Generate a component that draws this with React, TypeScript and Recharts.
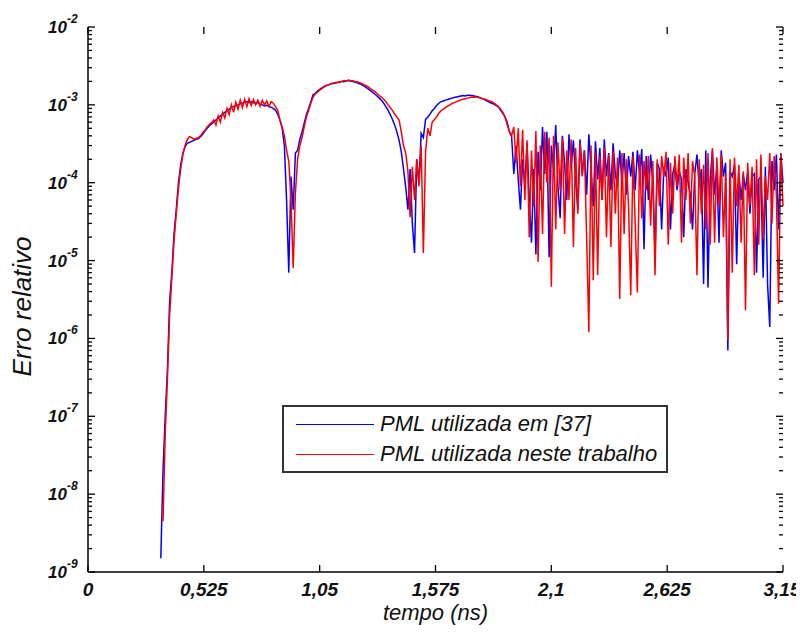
import React from 'react'
import { LineChart, Line, XAxis, YAxis, Legend, Label } from 'recharts'

// tempo (ns), one sample every 0.01 ns
const time = [
   0.33, 0.34, 0.35, 0.36, 0.37, 0.38, 0.39,
   0.4, 0.41, 0.42, 0.43, 0.44, 0.45, 0.46, 0.47, 0.48, 0.49,
   0.5, 0.51, 0.52, 0.53, 0.54, 0.55, 0.56, 0.57, 0.58, 0.59,
   0.6, 0.61, 0.62, 0.63, 0.64, 0.65, 0.66, 0.67, 0.68, 0.69,
   0.7, 0.71, 0.72, 0.73, 0.74, 0.75, 0.76, 0.77, 0.78, 0.79,
   0.8, 0.81, 0.82, 0.83, 0.84, 0.85, 0.86, 0.87, 0.88, 0.89,
   0.9, 0.91, 0.92, 0.93, 0.94, 0.95, 0.96, 0.97, 0.98, 0.99,
   1.0, 1.01, 1.02, 1.03, 1.04, 1.05, 1.06, 1.07, 1.08, 1.09,
   1.1, 1.11, 1.12, 1.13, 1.14, 1.15, 1.16, 1.17, 1.18, 1.19,
   1.2, 1.21, 1.22, 1.23, 1.24, 1.25, 1.26, 1.27, 1.28, 1.29,
   1.3, 1.31, 1.32, 1.33, 1.34, 1.35, 1.36, 1.37, 1.38, 1.39,
   1.4, 1.41, 1.42, 1.43, 1.44, 1.45, 1.46, 1.47, 1.48, 1.49,
   1.5, 1.51, 1.52, 1.53, 1.54, 1.55, 1.56, 1.57, 1.58, 1.59,
   1.6, 1.61, 1.62, 1.63, 1.64, 1.65, 1.66, 1.67, 1.68, 1.69,
   1.7, 1.71, 1.72, 1.73, 1.74, 1.75, 1.76, 1.77, 1.78, 1.79,
   1.8, 1.81, 1.82, 1.83, 1.84, 1.85, 1.86, 1.87, 1.88, 1.89,
   1.9, 1.91, 1.92, 1.93, 1.94, 1.95, 1.96, 1.97, 1.98, 1.99,
   2.0, 2.01, 2.02, 2.03, 2.04, 2.05, 2.06, 2.07, 2.08, 2.09,
   2.1, 2.11, 2.12, 2.13, 2.14, 2.15, 2.16, 2.17, 2.18, 2.19,
   2.2, 2.21, 2.22, 2.23, 2.24, 2.25, 2.26, 2.27, 2.28, 2.29,
   2.3, 2.31, 2.32, 2.33, 2.34, 2.35, 2.36, 2.37, 2.38, 2.39,
   2.4, 2.41, 2.42, 2.43, 2.44, 2.45, 2.46, 2.47, 2.48, 2.49,
   2.5, 2.51, 2.52, 2.53, 2.54, 2.55, 2.56, 2.57, 2.58, 2.59,
   2.6, 2.61, 2.62, 2.63, 2.64, 2.65, 2.66, 2.67, 2.68, 2.69,
   2.7, 2.71, 2.72, 2.73, 2.74, 2.75, 2.76, 2.77, 2.78, 2.79,
   2.8, 2.81, 2.82, 2.83, 2.84, 2.85, 2.86, 2.87, 2.88, 2.89,
   2.9, 2.91, 2.92, 2.93, 2.94, 2.95, 2.96, 2.97, 2.98, 2.99,
   3.0, 3.01, 3.02, 3.03, 3.04, 3.05, 3.06, 3.07, 3.08, 3.09,
   3.1, 3.11, 3.12, 3.13, 3.14, 3.15,
]

// erro relativo - PML utilizada em [37] (azul)
const pmlRef = [
   1.5e-9, 2e-8, 1e-7, 4e-7, 3e-6, 7e-6, 2.2e-5,
   4.5e-5, 1e-4, 1.7e-4, 2.4e-4, 2.9e-4, 3.2e-4, 3.3e-4, 3.4e-4, 3.5e-4, 3.6e-4,
   3.7e-4, 3.9e-4, 4.2e-4, 4.6e-4, 5e-4, 5.4e-4, 5.7e-4, 6e-4, 6.4e-4, 6.8e-4,
   7.2e-4, 7.6e-4, 8e-4, 8.4e-4, 8.8e-4, 9.2e-4, 9.5e-4, 9.8e-4, 1e-3, 1.03e-3,
   1.05e-3, 1.08e-3, 1.1e-3, 1.07e-3, 1.1e-3, 1.06e-3, 1.05e-3, 1.07e-3, 1.02e-3, 1e-3,
   9.7e-4, 9.9e-4, 9.6e-4, 9.3e-4, 9e-4, 8.5e-4, 7.6e-4, 6.4e-4, 5e-4, 3e-4,
   6e-5, 7e-6, 1.2e-4, 4.5e-5, 2.4e-4, 2.6e-4, 3.6e-4, 4.5e-4, 5.8e-4, 7.5e-4,
   9e-4, 1.1e-3, 1.35e-3, 1.4e-3, 1.5e-3, 1.58e-3, 1.65e-3, 1.72e-3, 1.78e-3, 1.8e-3,
   1.86e-3, 1.88e-3, 1.9e-3, 1.93e-3, 1.95e-3, 2e-3, 1.98e-3, 2.02e-3, 2.05e-3, 2.03e-3,
   2e-3, 1.97e-3, 1.92e-3, 1.87e-3, 1.82e-3, 1.75e-3, 1.68e-3, 1.6e-3, 1.52e-3, 1.45e-3,
   1.38e-3, 1.3e-3, 1.22e-3, 1.15e-3, 1.05e-3, 9.5e-4, 8.5e-4, 7.5e-4, 6.5e-4, 5.5e-4,
   4.5e-4, 3.5e-4, 2.5e-4, 1.5e-4, 8.8e-5, 4.5e-5, 1.5e-4, 3e-5, 1.25e-5, 2e-4,
   1e-4, 4.3e-4, 3.8e-4, 6.5e-4, 7e-4, 7.6e-4, 8.4e-4, 9e-4, 9.8e-4, 1.05e-3,
   1.1e-3, 1.12e-3, 1.15e-3, 1.17e-3, 1.2e-3, 1.22e-3, 1.24e-3, 1.26e-3, 1.28e-3, 1.3e-3,
   1.32e-3, 1.3e-3, 1.33e-3, 1.33e-3, 1.32e-3, 1.3e-3, 1.28e-3, 1.26e-3, 1.22e-3, 1.2e-3,
   1.15e-3, 1.12e-3, 1.08e-3, 1.05e-3, 1.02e-3, 9.8e-4, 9.4e-4, 8.5e-4, 7.8e-4, 7e-4,
   6e-4, 4.5e-4, 3.9e-4, 1.3e-4, 3e-4, 1.1e-4, 4.5e-5, 2e-4, 9e-5, 3.2e-4,
   6e-5, 1.7e-5, 1.5e-4, 1.2e-5, 2.5e-4, 8e-5, 5.2e-4, 1.3e-4, 4.5e-4, 1.1e-5,
   3e-4, 1.5e-4, 5.5e-4, 9e-5, 3.5e-5, 4e-4, 1.8e-4, 6e-5, 4.2e-4, 1.6e-4,
   3.5e-4, 1.1e-4, 4.5e-5, 3.6e-4, 1.3e-4, 2.6e-4, 7e-5, 4.2e-4, 1.5e-4, 5e-5,
   3.4e-4, 1.1e-4, 2.8e-4, 6e-5, 3.6e-4, 1.2e-4, 2.4e-4, 8e-5, 3.2e-4, 1.3e-4,
   9e-5, 2.6e-4, 1e-4, 2.4e-4, 7e-5, 2.2e-4, 1.2e-4, 2.5e-4, 8e-5, 2.6e-4,
   1.3e-4, 2.7e-4, 1.4e-5, 2.2e-4, 6e-5, 2.3e-4, 1e-4, 1.2e-5, 1.8e-4, 1.5e-4,
   2.5e-5, 1.6e-4, 1.2e-4, 2.1e-4, 2.5e-5, 1.3e-4, 1.7e-4, 8e-5, 1.4e-4, 1.1e-4,
   2e-5, 1.5e-4, 1e-4, 7e-5, 2.5e-5, 1.3e-4, 2.3e-4, 9e-5, 1.5e-4, 5e-6,
   2.6e-4, 4.5e-6, 1.1e-4, 2.6e-4, 7e-5, 1.6e-4, 1.7e-5, 2.6e-4, 1.2e-4, 1.8e-4,
   7e-7, 1.4e-4, 1.2e-4, 1.7e-4, 9e-6, 1.3e-4, 6e-5, 1.3e-4, 8e-5, 1.4e-4,
   4e-5, 1.2e-4, 1.3e-4, 7e-6, 1.1e-4, 1.2e-4, 6e-6, 1.6e-4, 5e-6, 1.4e-6,
   1.9e-4, 8e-5, 2.3e-4, 2.5e-5, 2.4e-4, 1e-4,
]

// erro relativo - PML utilizada neste trabalho (vermelho)
const pmlNew = [
   null, 4.5e-9, 6e-8, 3e-7, 2e-6, 6e-6, 1.8e-5,
   4e-5, 8.5e-5, 1.5e-4, 2.3e-4, 3e-4, 3.6e-4, 3.9e-4, 3.8e-4, 3.6e-4, 3.7e-4,
   3.8e-4, 4e-4, 4.4e-4, 4.7e-4, 5.2e-4, 5.6e-4, 5.9e-4, 6.4e-4, 5.5e-4, 7.2e-4,
   6e-4, 8e-4, 6.8e-4, 9e-4, 7.5e-4, 1e-3, 8e-4, 1.08e-3, 8.8e-4, 1.15e-3,
   9.2e-4, 1.18e-3, 9.5e-4, 1.2e-3, 9.8e-4, 1.17e-3, 1e-3, 1.15e-3, 9.6e-4, 1.14e-3,
   1e-3, 1.12e-3, 9.5e-4, 1.1e-3, 1.05e-3, 9.5e-4, 8.5e-4, 6.4e-4, 5.2e-4, 4e-4,
   2.6e-4, 1.9e-4, 6e-5, 8e-6, 7.4e-5, 2e-4, 3e-4, 3.8e-4, 5.2e-4, 7e-4,
   8.5e-4, 1.05e-3, 1.25e-3, 1.38e-3, 1.45e-3, 1.55e-3, 1.62e-3, 1.7e-3, 1.76e-3, 1.82e-3,
   1.85e-3, 1.9e-3, 1.92e-3, 1.95e-3, 1.98e-3, 2e-3, 2.05e-3, 2.02e-3, 2.08e-3, 2.05e-3,
   2.04e-3, 2e-3, 1.98e-3, 1.93e-3, 1.88e-3, 1.82e-3, 1.76e-3, 1.7e-3, 1.62e-3, 1.55e-3,
   1.48e-3, 1.4e-3, 1.32e-3, 1.25e-3, 1.18e-3, 1.1e-3, 1e-3, 9.2e-4, 8.5e-4, 7.6e-4,
   7e-4, 6.4e-4, 4.5e-4, 3e-4, 2.4e-4, 1.4e-4, 3.6e-5, 1.6e-4, 6e-5, 2e-4,
   9e-5, 3e-4, 1.25e-5, 2.5e-4, 5e-4, 4e-4, 6e-4, 6.5e-4, 7e-4, 7.8e-4,
   8.4e-4, 8.8e-4, 9.2e-4, 9.6e-4, 1e-3, 1.04e-3, 1.07e-3, 1.1e-3, 1.13e-3, 1.16e-3,
   1.18e-3, 1.2e-3, 1.22e-3, 1.24e-3, 1.26e-3, 1.25e-3, 1.27e-3, 1.24e-3, 1.22e-3, 1.2e-3,
   1.18e-3, 1.15e-3, 1.12e-3, 1.1e-3, 1.05e-3, 1e-3, 9.5e-4, 8.8e-4, 8e-4, 7e-4,
   5.5e-4, 4.6e-4, 4e-4, 5.2e-4, 1.8e-4, 5e-4, 9e-5, 4.8e-4, 6e-5, 3.5e-4,
   2e-5, 2.6e-4, 5e-5, 4.6e-4, 9.6e-6, 3e-4, 2.2e-5, 4.5e-4, 1e-4, 3.8e-4,
   4.6e-6, 4e-4, 2.5e-5, 3.3e-4, 8e-5, 3.8e-4, 2.2e-5, 2.6e-4, 6e-5, 3.6e-4,
   1.5e-5, 2.8e-4, 4e-5, 3.2e-4, 1.2e-4, 2.6e-4, 2e-5, 1.2e-6, 3e-4, 5.6e-6,
   2.5e-4, 6.5e-6, 2.2e-4, 6e-5, 2.9e-4, 2e-5, 2.3e-4, 1.5e-5, 2.6e-4, 4e-5,
   2.1e-4, 3.2e-6, 2.4e-4, 2.2e-5, 2e-4, 5e-5, 3.6e-6, 2.2e-4, 3e-5, 3.9e-6,
   2.3e-4, 3.5e-5, 1.9e-4, 8e-5, 2.2e-4, 2.8e-5, 1.9e-4, 6.5e-6, 2e-4, 5e-5,
   2.2e-4, 1.2e-4, 2.5e-4, 1.6e-5, 1.8e-4, 4e-5, 2.2e-4, 9e-5, 2.3e-4, 1.7e-5,
   2.1e-4, 6e-5, 2.4e-4, 3e-5, 1.9e-4, 1.2e-4, 6.5e-6, 2e-4, 4e-5, 1.7e-4,
   2.5e-5, 2.4e-4, 1.6e-5, 2.8e-4, 1.7e-5, 2.1e-4, 5e-5, 2.3e-4, 2e-5, 1.3e-4,
   9.7e-7, 2e-4, 7e-6, 2.1e-4, 5e-5, 1.7e-4, 1.7e-5, 1.4e-4, 2.3e-6, 1.8e-4,
   5e-5, 1.6e-4, 6.5e-6, 2e-4, 1.6e-5, 2.3e-4, 1.9e-5, 1.2e-4, 6e-5, 2.4e-4,
   3e-5, 2.2e-4, 7e-5, 2.8e-6, 2.3e-4, 5e-5,
]

const seriesNames = ['PML utilizada em [37]', 'PML utilizada neste trabalho']
const xTicks = [0, 0.525, 1.05, 1.575, 2.1, 2.625, 3.15]
const decades = [1e-9, 1e-8, 1e-7, 1e-6, 1e-5, 1e-4, 1e-3, 1e-2]

// minor ticks 2..9 x 10^n between the decades
const yTicks: number[] = []
decades.forEach((d, i) => {
   if (i === decades.length - 1) {
      yTicks.push(d)
      return
   }
   for (let k = 1; k <= 9; k++) yTicks.push(+(d * k).toPrecision(3))
})

const data = time.map((t, i) => ({ t, ref: pmlRef[i], novo: pmlNew[i] }))

const W = 796
const H = 620
const MARGIN = { top: 19, right: 21, bottom: 0, left: 0 }
const Y_AXIS_W = 80
const X_AXIS_H = 56
const LEFT = MARGIN.left + Y_AXIS_W
const RIGHT = W - MARGIN.right
const TOP = MARGIN.top
const BOTTOM = H - MARGIN.bottom - X_AXIS_H

const FONT = '"Liberation Sans", Arial, Helvetica, sans-serif'
const FRAME = { stroke: '#000', strokeWidth: 1.5 }

const isDecade = (v: number) => Math.abs(Math.log10(v) - Math.round(Math.log10(v))) < 1e-6

const YTick = ({ y, payload }: any) => {
   const v = payload.value
   const major = isDecade(v)
   const len = major ? 7 : 4
   return (
      <g>
         <line x1={LEFT} x2={LEFT + len} y1={y} y2={y} stroke="#000" strokeWidth={1.3} />
         <line x1={RIGHT - len} x2={RIGHT} y1={y} y2={y} stroke="#000" strokeWidth={1.3} />
         {major && (
            <g fontFamily={FONT} fontStyle="italic" fontWeight="bold" fill="#111">
               <text x={LEFT - 21} y={y + 6} textAnchor="end" fontSize={17}>
                  10
               </text>
               <text x={LEFT - 21} y={y - 4} textAnchor="start" fontSize={12}>
                  {Math.round(Math.log10(v))}
               </text>
            </g>
         )}
      </g>
   )
}

const XTick = ({ x, payload }: any) => {
   const label = String(payload.value).replace('.', ',')
   // keep the last label inside the page
   const tx = Math.min(x, W - 22)
   return (
      <g>
         <line x1={x} x2={x} y1={BOTTOM} y2={BOTTOM - 7} stroke="#000" strokeWidth={1.3} />
         <line x1={x} x2={x} y1={TOP} y2={TOP + 7} stroke="#000" strokeWidth={1.3} />
         <text
            x={tx}
            y={BOTTOM + 24}
            textAnchor="middle"
            fontFamily={FONT}
            fontStyle="italic"
            fontWeight="bold"
            fontSize={19}
            fill="#111"
         >
            {label}
         </text>
      </g>
   )
}

const LegendBox = ({ payload }: any) => (
   <div
      style={{
         width: 386,
         height: 68,
         boxSizing: 'border-box',
         border: '2px solid #333',
         background: '#fff',
         padding: '2px 0 0 12px',
         fontFamily: FONT,
         fontStyle: 'italic',
         fontSize: 22,
         color: '#111',
      }}
   >
      {(payload || []).map((entry: any) => (
         <div key={entry.value} style={{ display: 'flex', alignItems: 'center', height: 30 }}>
            <span
               style={{
                  display: 'inline-block',
                  width: 78,
                  borderTop: `1.5px solid ${entry.color}`,
                  marginRight: 6,
               }}
            />
            <span>{entry.value}</span>
         </div>
      ))}
   </div>
)

const Y_LABEL_X = 23
const Y_LABEL_Y = (TOP + BOTTOM) / 2 + 7

export default function App() {
   return (
      <div style={{ width: W, height: H, position: 'relative', background: '#fff' }}>
         <LineChart width={W} height={H} data={data} margin={MARGIN}>
            <XAxis
               dataKey="t"
               type="number"
               domain={[0, 3.15]}
               ticks={xTicks}
               interval={0}
               tick={XTick}
               tickLine={false}
               axisLine={FRAME}
               height={X_AXIS_H}
            >
               <Label
                  content={() => (
                     <text
                        x={(LEFT + RIGHT) / 2}
                        y={H - 8}
                        textAnchor="middle"
                        fontFamily={FONT}
                        fontStyle="italic"
                        fontSize={22}
                        fill="#111"
                     >
                        tempo (ns)
                     </text>
                  )}
               />
            </XAxis>
            <XAxis
               xAxisId="top"
               orientation="top"
               dataKey="t"
               type="number"
               domain={[0, 3.15]}
               height={0}
               tick={false}
               tickLine={false}
               axisLine={FRAME}
            />
            <YAxis
               type="number"
               scale="log"
               domain={[1e-9, 1e-2]}
               allowDataOverflow
               ticks={yTicks}
               interval={0}
               tick={YTick}
               tickLine={false}
               axisLine={FRAME}
               width={Y_AXIS_W}
            >
               <Label
                  content={() => (
                     <text
                        x={Y_LABEL_X}
                        y={Y_LABEL_Y}
                        transform={`rotate(-90 ${Y_LABEL_X} ${Y_LABEL_Y})`}
                        textAnchor="middle"
                        fontFamily={FONT}
                        fontStyle="italic"
                        fontSize={26}
                        fill="#111"
                     >
                        Erro relativo
                     </text>
                  )}
               />
            </YAxis>
            <YAxis
               yAxisId="right"
               orientation="right"
               type="number"
               scale="log"
               domain={[1e-9, 1e-2]}
               allowDataOverflow
               width={0}
               tick={false}
               tickLine={false}
               axisLine={FRAME}
            />
            <Line
               type="linear"
               dataKey="ref"
               name={seriesNames[0]}
               stroke="#0000ff"
               strokeWidth={1.5}
               dot={false}
               isAnimationActive={false}
            />
            <Line
               type="linear"
               dataKey="novo"
               name={seriesNames[1]}
               stroke="#ff0000"
               strokeWidth={1.5}
               dot={false}
               isAnimationActive={false}
            />
            <Legend
               verticalAlign="middle"
               align="center"
               layout="horizontal"
               content={LegendBox}
               wrapperStyle={{ position: 'absolute', left: 274, top: 397, width: 386, height: 68 }}
            />
         </LineChart>
      </div>
   )
}
